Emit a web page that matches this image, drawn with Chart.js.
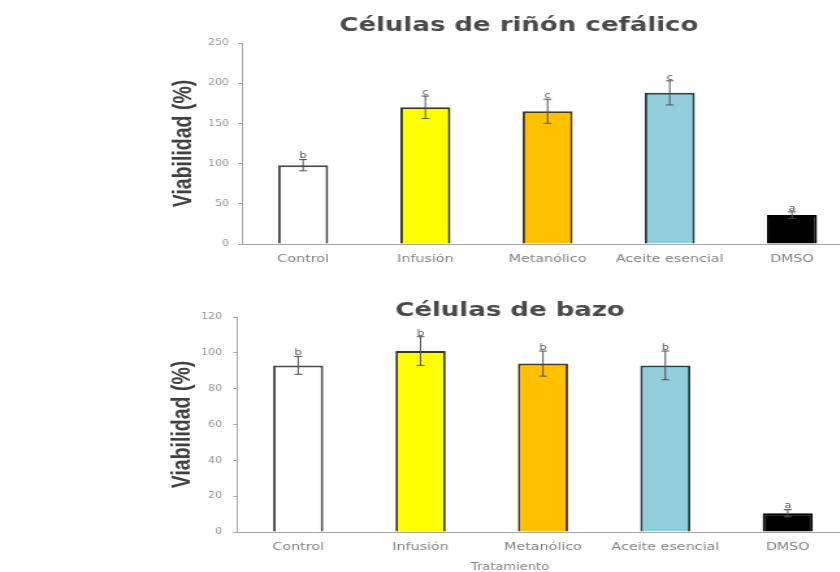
<!DOCTYPE html>
<html>
<head>
<meta charset="utf-8">
<script src="https://cdn.jsdelivr.net/npm/chart.js@4"></script>
<style>
  html, body { margin: 0; padding: 0; background: #fff; overflow: hidden; width: 840px; height: 572px; }
  .panel { position: absolute; left: 0; transform-origin: 0 0; transform: scaleX(1.3); }
</style>
</head>
<body>
<canvas id="rinon" class="panel" width="670" height="272" style="top:0"></canvas>
<canvas id="bazo" class="panel" width="670" height="330" style="top:262px"></canvas>
<script>
// Tratamientos
const categorias = ['Control', 'Infusión', 'Metanólico', 'Aceite esencial', 'DMSO'];

// Células de riñón cefálico
const viabilidadRinon = [98, 170, 165, 188, 36];
const errorRinon = [7, 14, 15, 15, 4];
const letrasRinon = ['b', 'c', 'c', 'c', 'a'];

// Células de bazo
const viabilidadBazo = [93, 101, 94, 93, 10.5];
const errorBazo = [5, 8, 7, 8, 2];
const letrasBazo = ['b', 'b', 'b', 'b', 'a'];

const rellenos = ['#ffffff', '#ffff00', '#ffc000', '#92cddc', '#000000'];
const bordes = ['#4a4a4a', '#3a3a10', '#4a3a10', '#27404a', '#000000'];

const GRIS_EJE = '#a6a6a6';
const GRIS_TEXTO = '#808080';

// Barras de error y letras de significancia sobre cada barra
const barrasError = {
  id: 'barrasError',
  afterDatasetsDraw(chart) {
    const ds = chart.data.datasets[0];
    const meta = chart.getDatasetMeta(0);
    const y = chart.scales.y;
    const ctx = chart.ctx;
    ctx.save();
    meta.data.forEach((bar, i) => {
      const v = ds.data[i], e = ds.errores[i];
      const yTop = y.getPixelForValue(v + e);
      const yBot = y.getPixelForValue(v - e);
      ctx.strokeStyle = '#505050';
      ctx.lineWidth = 1;
      ctx.beginPath();
      ctx.moveTo(bar.x, yTop); ctx.lineTo(bar.x, yBot);
      ctx.moveTo(bar.x - 3, yTop); ctx.lineTo(bar.x + 3, yTop);
      ctx.moveTo(bar.x - 3, yBot); ctx.lineTo(bar.x + 3, yBot);
      ctx.stroke();
      ctx.fillStyle = '#5a5a5a';
      ctx.font = '9px "DejaVu Sans"';
      ctx.textAlign = 'center';
      ctx.textBaseline = 'bottom';
      ctx.fillText(ds.letras[i], bar.x, yTop + 1);
    });
    ctx.restore();
  }
};

function crearGrafico(id, titulo, valores, errores, letras, maximo, paso, cfg) {
  const plugins = {
    legend: { display: false },
    tooltip: { enabled: false },
    title: {
      display: true,
      text: titulo,
      color: '#4a4a4a',
      font: { family: '"DejaVu Sans"', size: 20, weight: 'bold', lineHeight: cfg.tituloAlto },
      padding: cfg.tituloPad
    }
  };
  if (cfg.ejeX) {
    plugins.subtitle = {
      display: true,
      position: 'bottom',
      text: cfg.ejeX,
      color: GRIS_TEXTO,
      font: { family: '"DejaVu Sans"', size: 10, lineHeight: '12px' },
      padding: { top: 1, bottom: 19 }
    };
  }
  return new Chart(document.getElementById(id), {
    type: 'bar',
    data: {
      labels: categorias,
      datasets: [{
        data: valores,
        errores: errores,
        letras: letras,
        backgroundColor: rellenos,
        borderColor: bordes,
        borderWidth: 2,
        barPercentage: 0.41,
        categoryPercentage: 1
      }]
    },
    options: {
      responsive: false,
      animation: false,
      events: [],
      layout: { padding: { left: cfg.izq, right: cfg.der, top: 0, bottom: 0 } },
      plugins: plugins,
      scales: {
        x: {
          grid: { display: false },
          border: { display: true, color: GRIS_EJE, width: 1 },
          ticks: { color: GRIS_TEXTO, font: { family: '"DejaVu Sans"', size: 11 }, padding: 1, maxRotation: 0, autoSkip: false },
          afterFit(s) { s.height = 28; }
        },
        y: {
          min: 0,
          max: maximo,
          ticks: { stepSize: paso, color: '#959595', font: { family: '"DejaVu Sans"', size: 8.5 }, padding: cfg.tickPad },
          grid: { drawOnChartArea: false, drawTicks: true, tickLength: 3, color: GRIS_EJE },
          border: { display: true, color: GRIS_EJE, width: 1 },
          title: {
            display: true,
            text: 'Viabilidad (%)',
            color: '#404040',
            font: { family: '"Liberation Sans Narrow", "Arial Narrow", sans-serif', size: 19.5, weight: 'bold', lineHeight: '0px' },
            padding: { top: cfg.yTitPad, bottom: 0 }
          },
          afterFit(s) { s.width = cfg.anchoY; }
        }
      }
    },
    plugins: [barrasError]
  });
}

crearGrafico('rinon', 'Células de riñón cefálico', viabilidadRinon, errorRinon, letrasRinon, 250, 50, {
  izq: 142, der: 13.8, anchoY: 44.2, tickPad: 7, yTitPad: 0,
  tituloAlto: '20px', tituloPad: { top: 16, bottom: 7 }
});

crearGrafico('bazo', 'Células de bazo', viabilidadBazo, errorBazo, letrasBazo, 120, 20, {
  izq: 131.6, der: 17, anchoY: 50.7, tickPad: 8.4, yTitPad: 9.2,
  tituloAlto: '12px', tituloPad: { top: 43, bottom: 0 }, ejeX: 'Tratamiento'
});
</script>
</body>
</html>
